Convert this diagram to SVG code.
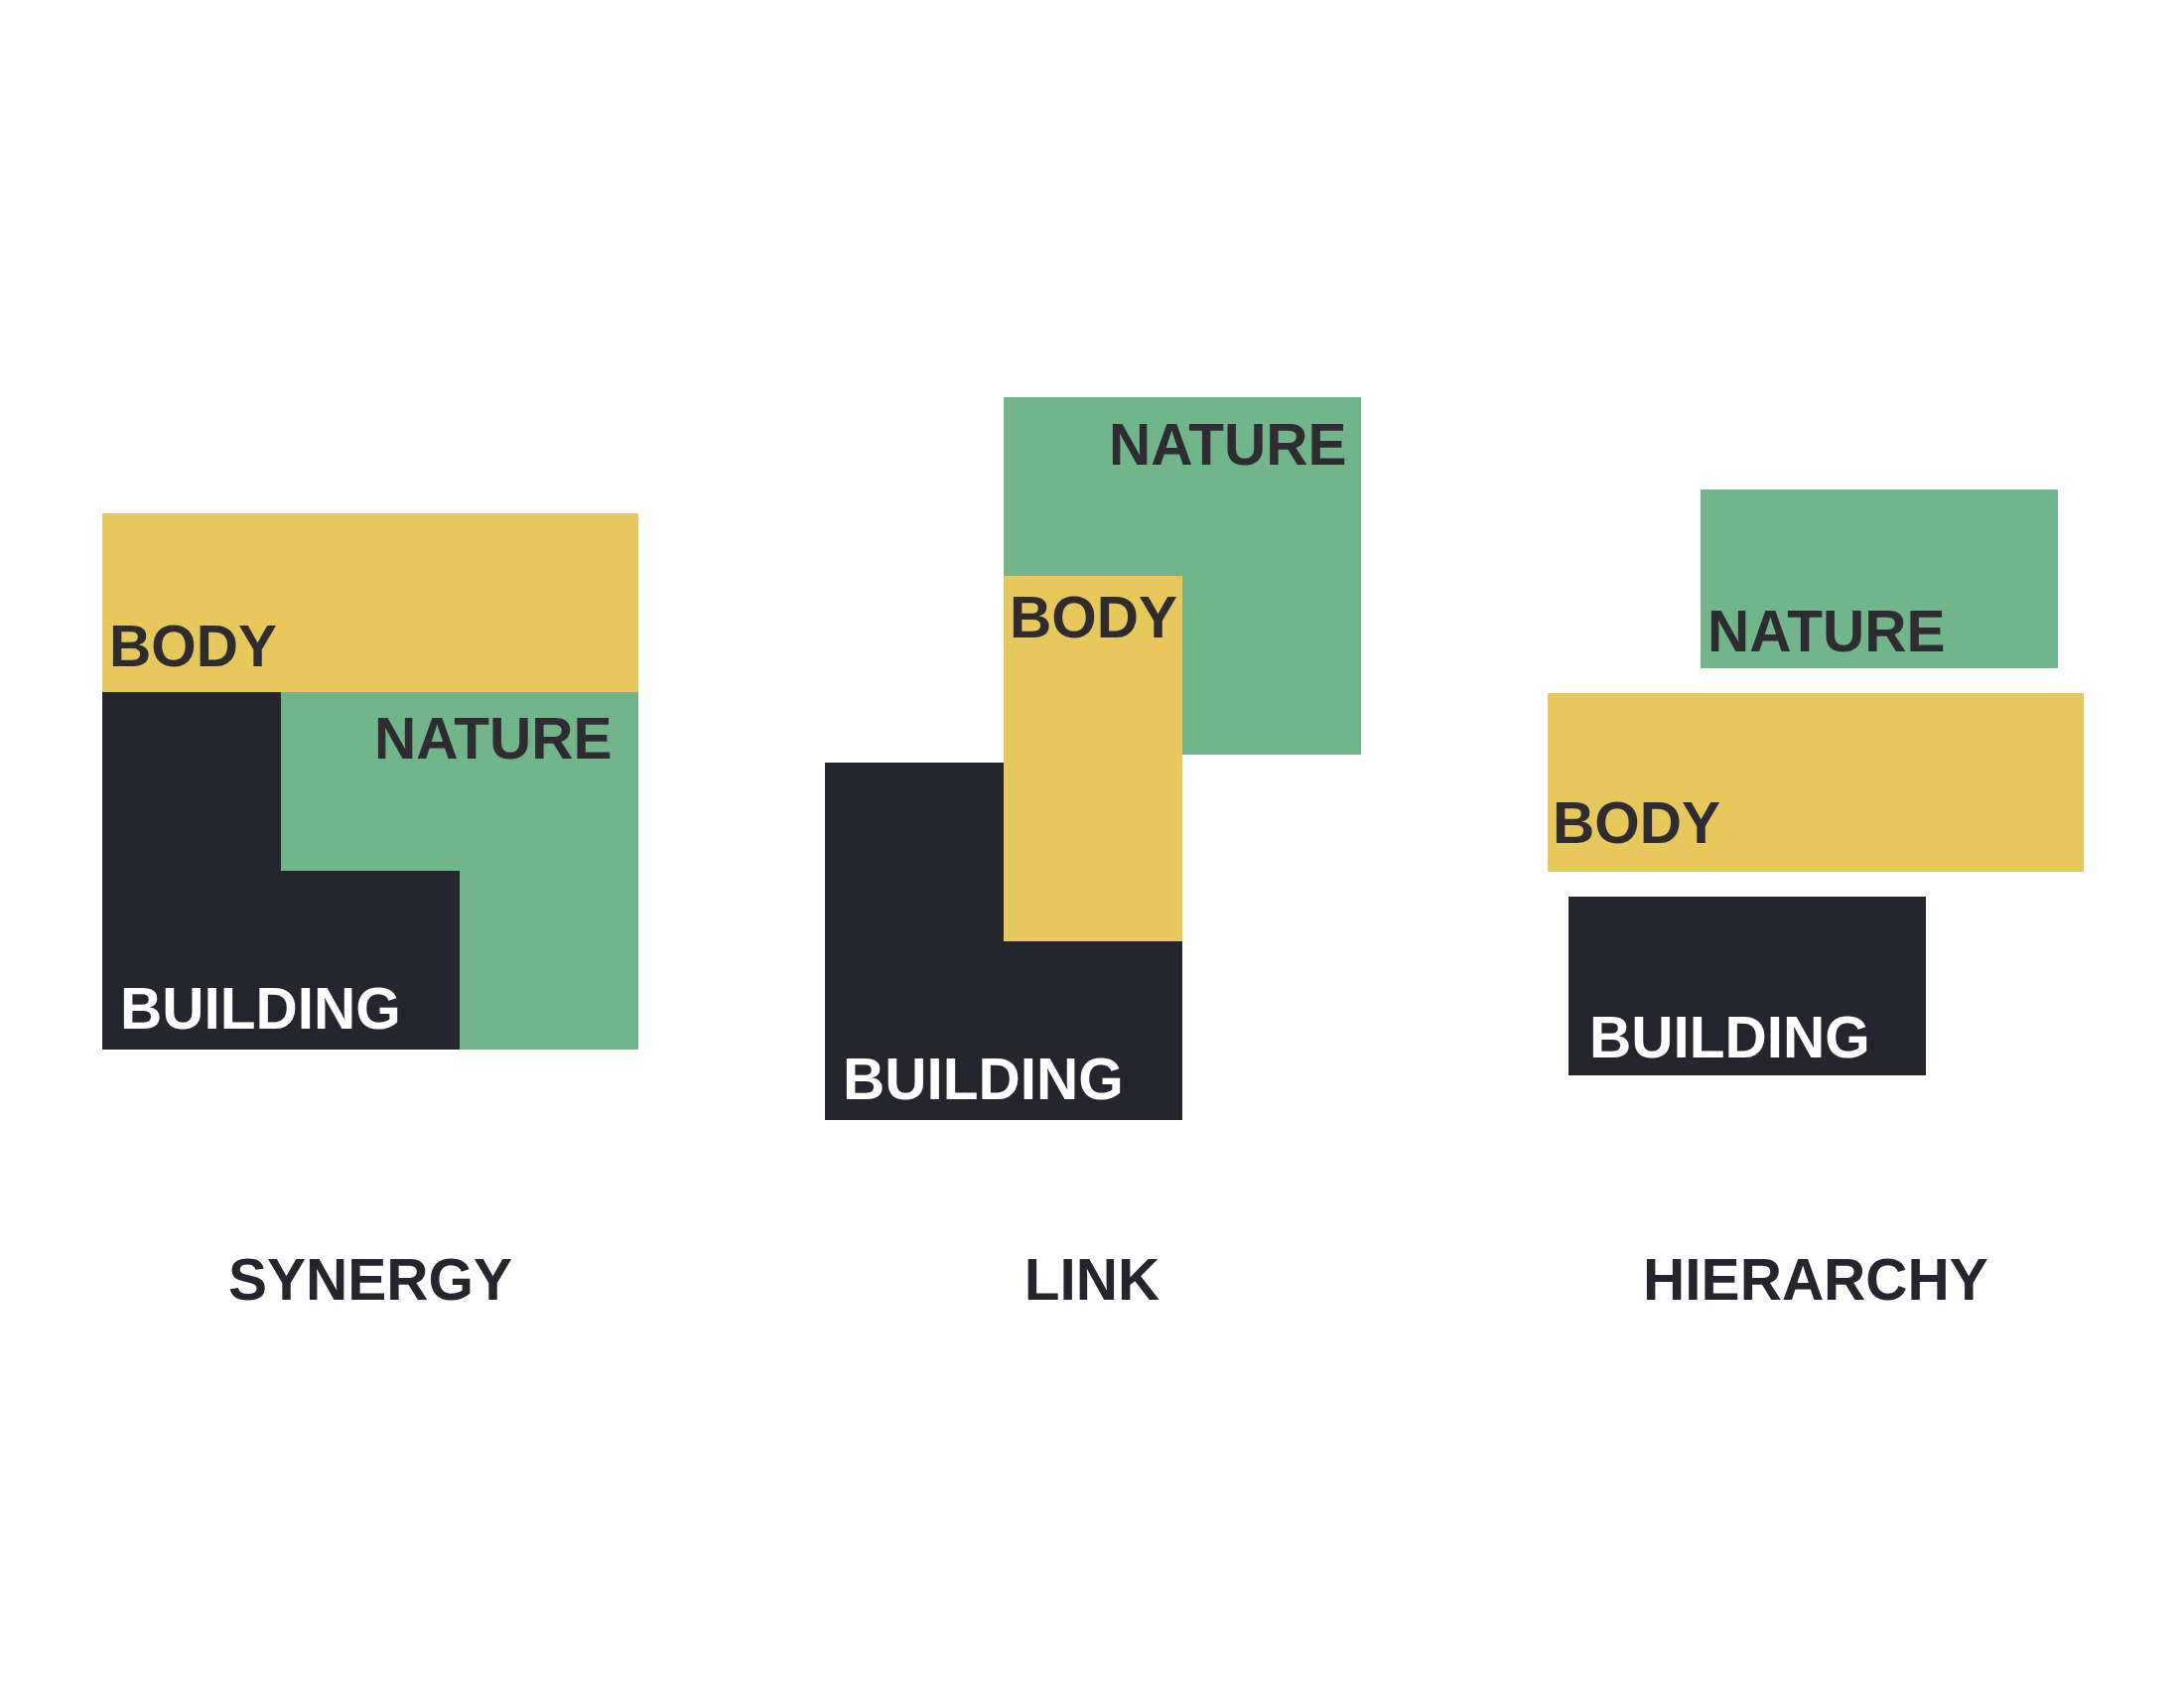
<svg xmlns="http://www.w3.org/2000/svg" width="2200" height="1700" viewBox="0 0 2200 1700">
  <style>
    .yellow { fill: #E7C85A; }
    .green { fill: #71B68A; }
    .dark { fill: #25252D; }
    .lbl { font-family: "Liberation Sans", Arial, sans-serif; font-weight: bold; font-size: 58.5px; }
    .ink { fill: #2F2C31; }
    .white { fill: #FFFFFF; }
    .title { font-family: "Liberation Sans", Arial, sans-serif; font-weight: bold; font-size: 58.5px; fill: #25252D; text-anchor: middle; }
  </style>
  <rect width="2200" height="1700" fill="#FFFFFF"/>

  <g id="synergy">
    <g id="synergy-body">
      <rect class="yellow" x="103" y="517" width="540" height="180"/>
      <text class="lbl ink" x="110" y="671">BODY</text>
    </g>
    <g id="synergy-building">
      <path class="dark" d="M103,697 H283 V877 H463 V1057 H103 Z"/>
      <text class="lbl white" x="121" y="1036">BUILDING</text>
    </g>
    <g id="synergy-nature">
      <path class="green" d="M283,697 H643 V1057 H463 V877 H283 Z"/>
      <text class="lbl ink" x="377" y="764">NATURE</text>
    </g>
    <text id="synergy-title" class="title" x="373" y="1309">SYNERGY</text>
  </g>

  <g id="link">
    <g id="link-nature">
      <rect class="green" x="1011" y="400" width="360" height="360"/>
      <text class="lbl ink" x="1117" y="468">NATURE</text>
    </g>
    <g id="link-building">
      <rect class="dark" x="831" y="768" width="360" height="360"/>
      <text class="lbl white" x="849" y="1107">BUILDING</text>
    </g>
    <g id="link-body">
      <rect class="yellow" x="1011" y="580" width="180" height="368"/>
      <text class="lbl ink" x="1017" y="642">BODY</text>
    </g>
    <text id="link-title" class="title" x="1100" y="1309">LINK</text>
  </g>

  <g id="hierarchy">
    <g id="hierarchy-nature">
      <rect class="green" x="1713" y="493" width="360" height="180"/>
      <text class="lbl ink" x="1720" y="656">NATURE</text>
    </g>
    <g id="hierarchy-body">
      <rect class="yellow" x="1559" y="698" width="540" height="180"/>
      <text class="lbl ink" x="1564" y="849">BODY</text>
    </g>
    <g id="hierarchy-building">
      <rect class="dark" x="1580" y="903" width="360" height="180"/>
      <text class="lbl white" x="1601" y="1065">BUILDING</text>
    </g>
    <text id="hierarchy-title" class="title" x="1829" y="1309">HIERARCHY</text>
  </g>

  <g id="connectors"/>
</svg>
